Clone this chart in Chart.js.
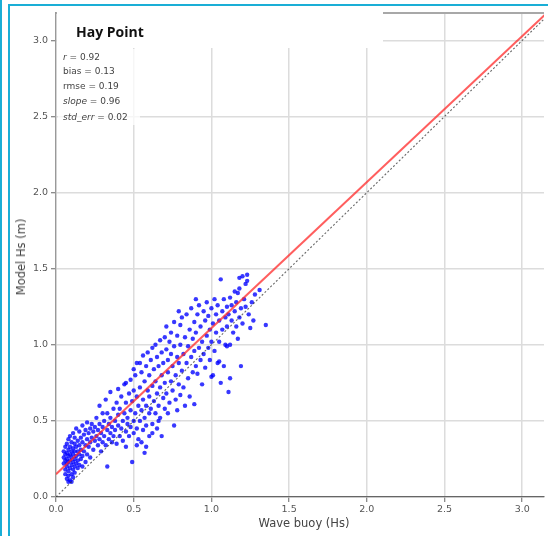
<!DOCTYPE html>
<html>
<head>
<meta charset="utf-8">
<script src="https://cdn.jsdelivr.net/npm/chart.js@4.4.1/dist/chart.umd.min.js"></script>
<style>
  html, body { margin: 0; padding: 0; background: #fff; }
  #wrap { position: relative; width: 548px; height: 536px; overflow: hidden; font-family: "DejaVu Sans", sans-serif; }
  #chart { position: absolute; left: 0; top: 0; }
  .frame { position: absolute; background: #1aaed6; }
  #titleBox { position: absolute; left: 57px; top: 7px; width: 326px; height: 41px; background: #fff; }
  #title { position: absolute; left: 76px; top: 22px; font: bold 14px "Open Sans", sans-serif; color: #111; white-space: nowrap; }
  #stats { position: absolute; left: 58px; top: 49px; width: 82px; height: 76px; background: rgba(255,255,255,0.75); }
  .stat { position: absolute; left: 63px; font-size: 9px; color: #444; white-space: nowrap; line-height: 10px; }
  .stat i { font-style: italic; }
  #xTitle { position: absolute; left: 304px; top: 516px; transform: translateX(-50%); font-size: 11.5px; color: #444; white-space: nowrap; }
  #yTitle { position: absolute; left: 21px; top: 257px; transform: translate(-50%, -50%) rotate(-90deg); font-size: 11.5px; color: #444; white-space: nowrap; }
</style>
</head>
<body>
<div id="wrap">
  <canvas id="chart" width="548" height="536"></canvas>
  <div id="titleBox"></div>
  <div id="title">Hay Point</div>
  <div id="stats"></div>
  <div class="stat" style="top:52px"><i>r</i> = 0.92</div>
  <div class="stat" style="top:66px">bias = 0.13</div>
  <div class="stat" style="top:81px">rmse = 0.19</div>
  <div class="stat" style="top:96px"><i>slope</i> = 0.96</div>
  <div class="stat" style="top:112px"><i>std_err</i> = 0.02</div>
  <div id="xTitle">Wave buoy (Hs)</div>
  <div id="yTitle">Model Hs (m)</div>
  <div class="frame" style="left:0;top:0;width:2px;height:536px"></div>
  <div class="frame" style="left:8px;top:4px;width:2px;height:532px"></div>
  <div class="frame" style="left:8px;top:4px;width:540px;height:2px"></div>
</div>
<script>
// --- valores ---
const buoyHs = [
  0.05,0.05,0.05,0.06,0.06,0.06,0.06,0.06,0.07,0.07,0.07,0.07,0.07,0.07,0.08,0.08,0.08,0.08,0.08,0.08,0.08,
  0.09,0.09,0.09,0.09,0.09,0.09,0.10,0.10,0.10,0.10,0.10,0.10,0.11,0.11,0.11,0.11,0.11,0.11,0.12,0.12,0.12,0.12,0.12,0.12,
  0.13,0.13,0.13,0.13,0.14,0.14,0.14,0.14,0.15,0.15,0.15,0.15,0.16,0.16,0.16,0.17,0.17,0.17,0.17,0.18,0.18,0.19,0.19,0.19,0.20,0.20,0.20,
  0.21,0.21,0.22,0.22,0.22,0.23,0.23,0.24,0.24,0.25,0.25,0.26,0.26,0.27,0.27,0.28,0.28,0.28,0.29,0.29,0.30,0.30,0.30,
  0.31,0.31,0.32,0.32,0.33,0.33,0.33,0.34,0.34,0.35,0.35,0.35,0.36,0.36,0.37,0.37,0.38,0.38,0.39,0.39,0.40,0.40,0.40,
  0.41,0.41,0.42,0.42,0.43,0.43,0.44,0.44,0.45,0.45,0.45,0.46,0.46,0.47,0.47,0.48,0.48,0.48,0.49,0.49,0.50,0.50,0.50,0.50,
  0.51,0.51,0.52,0.52,0.52,0.53,0.53,0.54,0.54,0.54,0.55,0.55,0.56,0.56,0.56,0.57,0.57,0.57,0.58,0.58,0.58,0.59,0.59,0.60,0.60,0.60,0.60,
  0.61,0.61,0.62,0.62,0.62,0.63,0.63,0.64,0.64,0.64,0.65,0.65,0.65,0.66,0.66,0.67,0.67,0.67,0.68,0.68,0.68,0.69,0.69,0.70,0.70,0.70,
  0.71,0.71,0.71,0.72,0.72,0.72,0.73,0.73,0.74,0.74,0.74,0.75,0.75,0.76,0.76,0.76,0.77,0.77,0.78,0.78,0.78,0.79,0.79,0.79,0.80,0.80,0.80,
  0.81,0.81,0.82,0.82,0.83,0.83,0.84,0.84,0.85,0.85,0.86,0.86,0.87,0.87,0.88,0.88,0.89,0.89,0.89,0.90,0.90,0.90,
  0.91,0.91,0.92,0.92,0.93,0.93,0.94,0.94,0.95,0.95,0.96,0.96,0.97,0.97,0.98,0.98,0.99,0.99,1.00,1.00,1.00,
  1.01,1.01,1.02,1.02,1.03,1.03,1.04,1.04,1.05,1.05,1.05,1.06,1.06,1.07,1.07,1.08,1.08,1.09,1.09,1.10,1.10,1.10,
  1.11,1.11,1.12,1.12,1.12,1.13,1.13,1.14,1.15,1.15,1.16,1.16,1.17,1.17,1.18,1.18,1.18,1.19,1.19,1.20,1.20,
  1.21,1.22,1.22,1.23,1.23,1.24,1.25,1.26,1.27,1.28,1.31,1.35,
  0.55,0.62,0.58,0.66,0.45,0.52
];
const modelHs = [
  0.22,0.26,0.30,0.18,0.24,0.28,0.33,0.15,0.12,0.20,0.25,0.29,0.35,0.22,0.10,0.17,0.23,0.27,0.31,0.38,0.14,
  0.11,0.19,0.24,0.28,0.33,0.40,0.10,0.15,0.21,0.26,0.30,0.36,0.13,0.18,0.23,0.28,0.32,0.42,0.16,0.20,0.25,0.30,0.35,0.39,
  0.22,0.27,0.33,0.45,0.19,0.24,0.30,0.37,0.21,0.28,0.34,0.43,0.25,0.31,0.39,0.20,0.27,0.36,0.47,0.30,0.41,0.23,0.34,0.44,0.28,0.38,0.49,
  0.33,0.42,0.36,0.45,0.26,0.39,0.48,0.31,0.43,0.37,0.46,0.40,0.52,0.34,0.44,0.38,0.48,0.60,0.42,0.30,0.46,0.36,0.55,
  0.40,0.50,0.64,0.34,0.44,0.20,0.55,0.38,0.48,0.42,0.69,0.52,0.36,0.46,0.58,0.40,0.50,0.44,0.62,0.35,0.71,0.47,0.54,
  0.40,0.58,0.45,0.66,0.50,0.37,0.74,0.55,0.43,0.62,0.75,0.48,0.52,0.40,0.68,0.77,0.57,0.46,0.23,0.63,0.50,0.84,0.42,0.70,
  0.55,0.80,0.45,0.66,0.88,0.60,0.38,0.72,0.50,0.88,0.57,0.82,0.44,0.64,0.93,0.29,0.52,0.76,0.60,0.86,0.47,0.70,0.95,0.55,0.80,0.40,0.66,
  0.90,0.58,0.73,0.48,0.98,0.63,0.84,0.55,0.76,1.00,0.68,0.92,0.45,0.60,0.86,0.72,1.03,0.52,0.40,0.80,0.95,0.65,0.88,0.58,0.75,1.05,
  0.97,1.12,0.68,0.82,0.55,0.90,1.02,0.62,0.76,1.08,0.94,0.70,0.86,0.47,1.15,0.99,0.64,0.80,0.92,1.06,0.57,1.22,0.74,0.88,1.00,0.67,1.13,
  0.83,1.18,0.94,0.72,1.05,0.60,0.88,1.20,0.78,0.99,1.10,0.66,0.92,1.24,0.82,1.04,0.61,0.96,1.15,1.30,0.86,1.08,
  0.81,1.20,0.98,1.26,0.90,1.12,1.02,0.74,1.22,0.94,1.16,0.85,1.06,1.28,0.98,1.19,0.90,1.10,1.24,1.02,0.79,
  0.80,1.14,1.30,0.96,1.08,1.20,0.88,1.26,0.89,1.02,1.16,1.43,0.75,1.22,1.10,0.86,1.30,1.18,1.00,0.99,1.25,1.12,
  0.69,1.20,1.31,0.78,1.00,1.16,1.26,1.08,1.22,1.35,1.12,1.28,1.34,1.04,1.37,1.18,1.44,0.86,1.24,1.45,1.14,
  1.30,1.25,1.40,1.42,1.46,1.20,1.11,1.28,1.16,1.33,1.36,1.13,
  0.36,0.42,0.33,0.50,0.33,0.34
];
// linha de regressão (r = 0.92, slope = 0.96) e linha 1:1
const fitX = [0, 3.2];
const fitY = [0.15, 3.22];
const oneToOneX = [0, 3.2];
const oneToOneY = [0, 3.2];
const xTicks = [0, 0.5, 1.0, 1.5, 2.0, 2.5, 3.0];
const yTicks = [0, 0.5, 1.0, 1.5, 2.0, 2.5, 3.0];

const toPoints = (xs, ys) => xs.map((x, i) => ({ x: x, y: ys[i] }));

// borda superior do eixo (spine)
const topSpine = {
  id: 'topSpine',
  afterDraw(chart) {
    const { ctx, chartArea } = chart;
    ctx.save();
    ctx.strokeStyle = '#a8a8a8';
    ctx.lineWidth = 2;
    ctx.beginPath();
    ctx.moveTo(chartArea.left, chartArea.top);
    ctx.lineTo(chartArea.right, chartArea.top);
    ctx.stroke();
    ctx.restore();
  }
};

const tickFont = { family: "'DejaVu Sans', sans-serif", size: 9.5 };

new Chart(document.getElementById('chart').getContext('2d'), {
  type: 'scatter',
  data: {
    datasets: [
      {
        label: 'fit',
        data: toPoints(fitX, fitY),
        showLine: true,
        borderColor: 'rgba(255,40,40,0.75)',
        borderWidth: 2,
        pointRadius: 0,
        order: 0
      },
      {
        label: '1:1',
        data: toPoints(oneToOneX, oneToOneY),
        showLine: true,
        borderColor: 'rgba(40,40,40,0.7)',
        borderWidth: 1.1,
        borderDash: [2, 2],
        pointRadius: 0,
        order: 1
      },
      {
        label: 'Hs',
        data: toPoints(buoyHs, modelHs),
        backgroundColor: 'rgba(0,0,255,0.78)',
        borderWidth: 0,
        pointRadius: 2.2,
        order: 2
      }
    ]
  },
  options: {
    responsive: false,
    animation: false,
    layout: { padding: { top: 13, right: 0, left: 0, bottom: 0 } },
    plugins: { legend: { display: false }, tooltip: { enabled: false } },
    scales: {
      x: {
        type: 'linear',
        min: 0,
        max: 3.14,
        afterBuildTicks: s => { s.ticks = xTicks.map(v => ({ value: v })); },
        afterFit: s => { s.height = 39; },
        grid: { color: '#dcdcdc', lineWidth: 1.5, tickLength: 5, tickColor: '#666', tickWidth: 1 },
        border: { color: '#666', width: 1.3 },
        ticks: { color: '#555', font: tickFont, padding: 2, maxRotation: 0, callback: v => v.toFixed(1) }
      },
      y: {
        type: 'linear',
        min: 0,
        max: 3.18,
        afterBuildTicks: s => { s.ticks = yTicks.map(v => ({ value: v })); },
        afterFit: s => { s.width = 56; },
        grid: { color: '#dcdcdc', lineWidth: 1.5, tickLength: 5, tickColor: '#666', tickWidth: 1 },
        border: { color: '#999', width: 1.3 },
        ticks: { color: '#555', font: tickFont, padding: 3, callback: v => v.toFixed(1) }
      }
    }
  },
  plugins: [topSpine]
});
</script>
</body>
</html>
